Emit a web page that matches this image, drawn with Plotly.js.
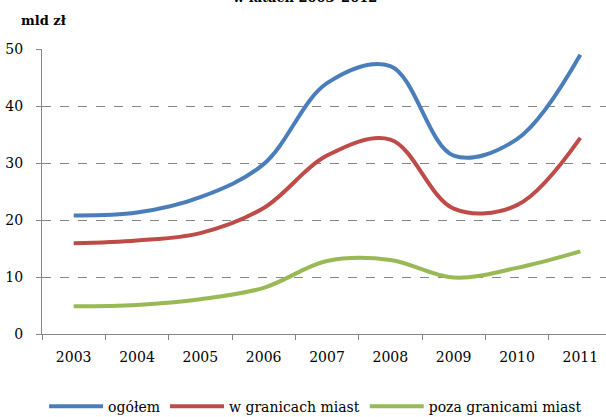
<!DOCTYPE html>
<html>
<head>
<meta charset="utf-8">
<script src="https://cdn.plot.ly/plotly-3.0.1.min.js"></script>
<style>html,body{margin:0;padding:0;background:#fff;overflow:hidden;}</style>
</head>
<body>
<div id="chart"></div>
<script>
const years = ['2003','2004','2005','2006','2007','2008','2009','2010','2011'];
const ogolem = [20.8, 21.3, 24.0, 29.8, 44.0, 47.0, 31.3, 34.2, 49.0];
const wGranicach = [15.9, 16.4, 17.7, 22.1, 31.3, 34.1, 22.0, 22.6, 34.4];
const pozaGranicami = [4.85, 5.1, 6.1, 8.1, 12.8, 13.0, 9.9, 11.6, 14.5];
const seriesNames = ['ogółem', 'w granicach miast', 'poza granicami miast'];
const colors = ['#4A7EBB', '#BE4B48', '#98B954'];

const font = 'DejaVu Serif';
const data = [ogolem, wGranicach, pozaGranicami].map((vals, i) => ({
  type: 'scatter', mode: 'lines', x: years, y: vals, name: seriesNames[i],
  line: {color: colors[i], width: 4, shape: 'spline', smoothing: 1}
}));

const layout = {
  width: 620, height: 417,
  margin: {l: 42, r: 8, t: 49, b: 83, autoexpand: false},
  paper_bgcolor: '#fff', plot_bgcolor: '#fff',
  font: {family: font, size: 14, color: '#000'},
  showlegend: true,
  legend: {orientation: 'h', x: 0.48, xanchor: 'center', y: -0.255, yanchor: 'middle',
           font: {family: font, size: 14, color: '#000'}, itemwidth: 54, traceorder: 'normal'},
  xaxis: {type: 'category', range: [-0.5, 8.5], showgrid: false, showline: true,
          linecolor: '#868686', linewidth: 1, ticks: 'outside', ticklen: 5, tickcolor: '#868686',
          tickson: 'boundaries', ticklabelstandoff: 10, zeroline: false, fixedrange: true,
          tickfont: {family: font, size: 14, color: '#000'}},
  yaxis: {range: [0, 50], dtick: 10, showgrid: true, gridcolor: '#868686', griddash: 'dash', gridwidth: 1,
          showline: true, linecolor: '#868686', linewidth: 1, ticks: 'outside', ticklen: 5,
          tickcolor: '#868686', ticklabelstandoff: 10, zeroline: false, fixedrange: true,
          tickfont: {family: font, size: 14, color: '#000'}},
  annotations: [
    {text: '<b>mld zł</b>', xref: 'paper', yref: 'paper', x: 0, y: 1, xanchor: 'left', yanchor: 'bottom',
     xshift: -23, yshift: 19, showarrow: false, font: {family: font, size: 13, color: '#000'}},
    {text: '<b>w latach 2003–2012</b>', xref: 'paper', yref: 'paper', x: 0.461, y: 1, xanchor: 'center', yanchor: 'bottom',
     yshift: 42, showarrow: false, font: {family: font, size: 13, color: '#000'}}
  ]
};
Plotly.newPlot('chart', data, layout, {displayModeBar: false, staticPlot: true});
</script>
</body>
</html>
